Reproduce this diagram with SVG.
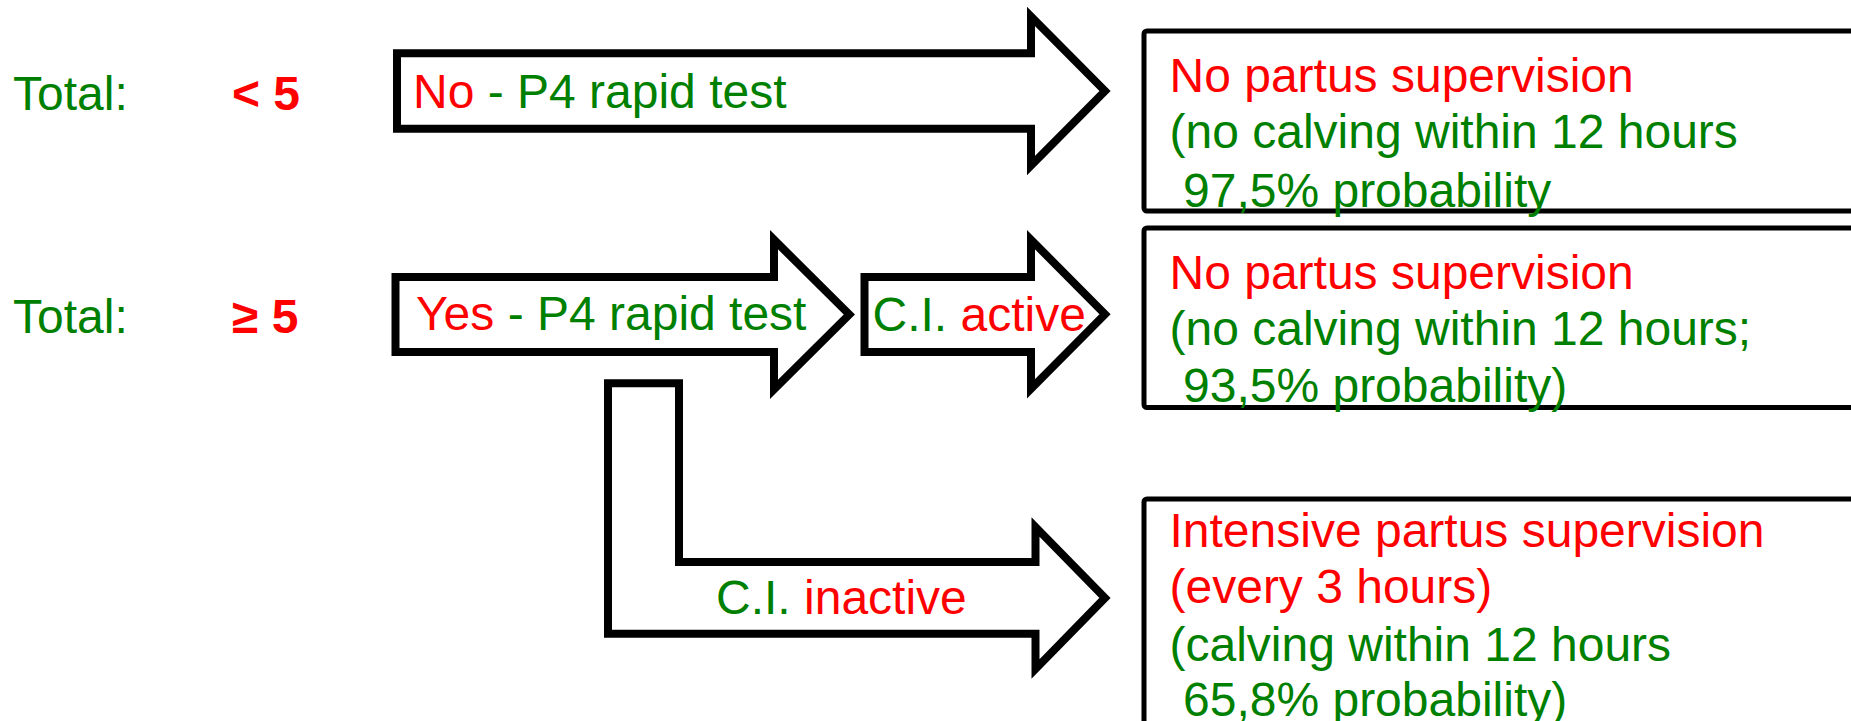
<svg xmlns="http://www.w3.org/2000/svg" width="1851" height="721" viewBox="0 0 1851 721">
<style>
text{font-family:"Liberation Sans",Arial,sans-serif;font-size:48px}
.g{fill:#008000}
.r{fill:#ff0000}
.b{font-weight:bold}
.arrow{fill:#ffffff;stroke:#000000;stroke-width:8;stroke-miterlimit:10;stroke-linejoin:miter}
.box{fill:#ffffff;stroke:#000000;stroke-width:5}
</style>
<rect width="1851" height="721" fill="#ffffff"/>
<g id="score-low">
<text x="13" y="109.5" class="g">Total:</text>
<text x="232" y="110" class="r b">&lt; 5</text>
</g>
<g id="score-high">
<text x="13" y="333" class="g">Total:</text>
<text x="232" y="333" class="r b">≥ 5</text>
</g>
<g id="connectors">
<g id="arrow-no">
<polygon class="arrow" points="397,53.3 1031,53.3 1031,16.4 1105,91 1031,165.6 1031,128.7 397,128.7"/>
<text x="413" y="108"><tspan class="r">No</tspan><tspan class="g"> - P4 rapid test</tspan></text>
</g>
<g id="arrow-yes">
<polygon class="arrow" points="395.5,277 774,277 774,239.7 849.3,314.5 774,389.3 774,352 395.5,352"/>
<text x="416" y="330"><tspan class="r">Yes</tspan><tspan class="g"> - P4 rapid test</tspan></text>
</g>
<g id="arrow-ci-active">
<polygon class="arrow" points="864.5,277 1031,277 1031,239.7 1105,314.2 1031,388.7 1031,352 864.5,352"/>
<text x="872.5" y="331"><tspan class="g">C.I. </tspan><tspan class="r">active</tspan></text>
</g>
<g id="arrow-ci-inactive">
<polygon class="arrow" points="608,383.3 679,383.3 679,562 1035.5,562 1035.5,527 1105,597.9 1035.5,669 1035.5,633.7 608,633.7"/>
<text x="716" y="614"><tspan class="g">C.I. </tspan><tspan class="r">inactive</tspan></text>
</g>
</g>
<g id="result-no-supervision-1">
<rect class="box" x="1144" y="31" width="800" height="180" rx="3"/>
<text x="1169.5" y="92" class="r">No partus supervision</text>
<text x="1169.5" y="148" class="g">(no calving within 12 hours</text>
<text x="1183" y="206.5" class="g">97,5% probability</text>
</g>
<g id="result-no-supervision-2">
<rect class="box" x="1144" y="228" width="800" height="179.5" rx="3"/>
<text x="1169.5" y="288.5" class="r">No partus supervision</text>
<text x="1169.5" y="344.5" class="g">(no calving within 12 hours;</text>
<text x="1183" y="402" class="g">93,5% probability)</text>
</g>
<g id="result-intensive">
<rect class="box" x="1144" y="499" width="800" height="300" rx="3"/>
<text x="1169.5" y="547" class="r">Intensive partus supervision</text>
<text x="1169.5" y="603" class="r">(every 3 hours)</text>
<text x="1169.5" y="661" class="g">(calving within 12 hours</text>
<text x="1183" y="716" class="g">65,8% probability)</text>
</g>
</svg>
